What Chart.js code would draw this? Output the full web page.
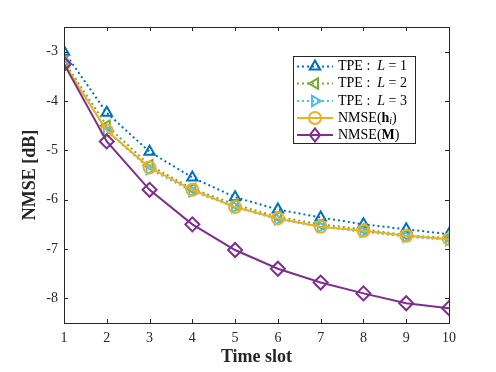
<!DOCTYPE html>
<html>
<head>
<meta charset="utf-8">
<script src="https://cdn.jsdelivr.net/npm/chart.js@4.4.0/dist/chart.umd.min.js"></script>
<style>
  html, body { margin: 0; padding: 0; background: #fff; }
  #wrap { width: 496px; height: 372px; }
</style>
</head>
<body>
<div id="wrap"><canvas id="grafico" width="496" height="372"></canvas></div>
<script>
// Dados
const timeSlots = [1, 2, 3, 4, 5, 6, 7, 8, 9, 10];
const tpeL1 = [-3.0, -4.24, -5.03, -5.55, -5.95, -6.2, -6.36, -6.5, -6.6, -6.7];
const tpeL2 = [-3.2, -4.5, -5.3, -5.78, -6.1, -6.35, -6.5, -6.6, -6.72, -6.78];
const tpeL3 = [-3.25, -4.6, -5.38, -5.83, -6.15, -6.4, -6.55, -6.65, -6.75, -6.82];
const nmseH = [-3.25, -4.6, -5.35, -5.8, -6.15, -6.38, -6.55, -6.63, -6.73, -6.8];
const nmseM = [-3.25, -4.82, -5.8, -6.5, -7.02, -7.4, -7.68, -7.9, -8.1, -8.2];
const yTicks = [-8, -7, -6, -5, -4, -3];

const serif = '"Liberation Serif", "DejaVu Serif", serif';
const axisColor = '#262626';

const pts = arr => arr.map((v, i) => ({ x: timeSlots[i], y: v }));

// Séries (estilo MATLAB)
const series = [
  { label: 'L1', data: tpeL1, color: '#0072BD', style: 'triangle', rot: 0, dash: [2, 3] },
  { label: 'L2', data: tpeL2, color: '#77AC30', style: 'triangle', rot: -90, dash: [2, 3] },
  { label: 'L3', data: tpeL3, color: '#4DBEEE', style: 'triangle', rot: 90, dash: [2, 3] },
  { label: 'H', data: nmseH, color: '#EDB120', style: 'circle', rot: 0, dash: [] },
  { label: 'M', data: nmseM, color: '#7E2F8E', style: 'rectRot', rot: 0, dash: [] }
];

// Caixa, ticks para dentro e legenda
const boxPlugin = {
  id: 'boxPlugin',
  afterDraw(chart) {
    const { ctx, chartArea: a, scales } = chart;
    ctx.save();
    ctx.strokeStyle = axisColor;
    ctx.lineWidth = 1;
    ctx.strokeRect(a.left + 0.5, a.top + 0.5, a.right - a.left, a.bottom - a.top);
    ctx.beginPath();
    scales.x.ticks.forEach(t => {
      const x = Math.round(scales.x.getPixelForValue(t.value)) + 0.5;
      ctx.moveTo(x, a.bottom); ctx.lineTo(x, a.bottom - 4);
      ctx.moveTo(x, a.top); ctx.lineTo(x, a.top + 4);
    });
    scales.y.ticks.forEach(t => {
      const y = Math.round(scales.y.getPixelForValue(t.value)) + 0.5;
      ctx.moveTo(a.left, y); ctx.lineTo(a.left + 4, y);
      ctx.moveTo(a.right, y); ctx.lineTo(a.right - 4, y);
    });
    ctx.stroke();

    // legenda
    const lx = 293, ly = 56, lw = 122, lh = 87;
    ctx.fillStyle = '#fff';
    ctx.fillRect(lx, ly, lw, lh);
    ctx.strokeStyle = axisColor;
    ctx.strokeRect(lx + 0.5, ly + 0.5, lw, lh);
    const rows = [66.5, 83.5, 101, 118, 135];
    series.forEach((s, i) => {
      const y = rows[i];
      ctx.strokeStyle = s.color;
      ctx.lineWidth = 2;
      ctx.setLineDash(s.dash);
      ctx.beginPath();
      ctx.moveTo(297, y); ctx.lineTo(333, y);
      ctx.stroke();
      ctx.setLineDash([]);
      drawMarker(ctx, s, 315, y);
    });
    ctx.fillStyle = '#000';
    ctx.textBaseline = 'middle';
    const seg = (parts, x, y) => {
      parts.forEach(p => {
        ctx.font = p.f;
        ctx.fillText(p.t, x, y + (p.dy || 0));
        x += ctx.measureText(p.t).width;
      });
    };
    const n = '14px ' + serif, it = 'italic 14px ' + serif, b = 'bold 14px ' + serif;
    ['1', '2', '3'].forEach((k, i) => {
      seg([{ t: 'TPE :  ', f: n }, { t: 'L', f: it }, { t: ' = ' + k, f: n }], 338, rows[i]);
    });
    seg([{ t: 'NMSE(', f: n }, { t: 'h', f: b }, { t: 'i', f: 'italic 10px ' + serif, dy: 3 }, { t: ')', f: n }], 338, rows[3]);
    seg([{ t: 'NMSE(', f: n }, { t: 'M', f: b }, { t: ')', f: n }], 338, rows[4]);
    ctx.restore();
  }
};

function drawMarker(ctx, s, x, y) {
  ctx.save();
  ctx.strokeStyle = s.color;
  ctx.lineWidth = 2;
  ctx.fillStyle = '#fff';
  ctx.translate(x, y);
  ctx.rotate(s.rot * Math.PI / 180);
  ctx.beginPath();
  const r = 6;
  if (s.style === 'circle') {
    ctx.arc(0, 0, r, 0, Math.PI * 2);
  } else if (s.style === 'rectRot') {
    ctx.moveTo(0, -r * 1.1); ctx.lineTo(r * 0.85, 0); ctx.lineTo(0, r * 1.1); ctx.lineTo(-r * 0.85, 0); ctx.closePath();
  } else {
    ctx.moveTo(0, -r); ctx.lineTo(r * 0.87, r * 0.5); ctx.lineTo(-r * 0.87, r * 0.5); ctx.closePath();
  }
  ctx.stroke();
  ctx.restore();
}

const config = {
  type: 'line',
  data: {
    datasets: series.map(s => ({
      label: s.label,
      data: pts(s.data),
      borderColor: s.color,
      backgroundColor: 'rgba(0,0,0,0)',
      borderWidth: 2,
      borderDash: s.dash,
      pointStyle: s.style,
      pointRotation: s.rot,
      pointRadius: s.style === 'rectRot' ? 7 : 6,
      pointBorderWidth: 2,
      pointBorderColor: s.color,
      pointBackgroundColor: 'rgba(0,0,0,0)',
      tension: 0
    })).reverse()
  },
  options: {
    responsive: false,
    animation: false,
    layout: { padding: { top: 27, right: 47, left: 0, bottom: 0 } },
    plugins: { legend: { display: false }, tooltip: { enabled: false } },
    scales: {
      x: {
        type: 'linear', min: 1, max: 10,
        afterBuildTicks: axis => { axis.ticks = timeSlots.map(v => ({ value: v })); },
        afterFit: axis => { axis.height = 49; },
        grid: { display: false, drawTicks: false },
        border: { display: false },
        ticks: { color: axisColor, font: { family: serif, size: 14 }, padding: 7, maxRotation: 0 },
        title: { display: true, text: 'Time slot', color: axisColor, font: { family: serif, size: 18, weight: 'bold' }, padding: { top: 0 } }
      },
      y: {
        min: -8.5, max: -2.5,
        afterBuildTicks: axis => { axis.ticks = yTicks.map(v => ({ value: v })); },
        afterFit: axis => { axis.width = 64; },
        grid: { display: false, drawTicks: false },
        border: { display: false },
        ticks: { color: axisColor, font: { family: serif, size: 14 }, padding: 6 },
        title: { display: true, text: 'NMSE [dB]', color: axisColor, font: { family: serif, size: 18, weight: 'bold' }, padding: { top: 20, bottom: 0 } }
      }
    }
  },
  plugins: [boxPlugin]
};

const grafico = new Chart(document.getElementById('grafico').getContext('2d'), config);
</script>
</body>
</html>
